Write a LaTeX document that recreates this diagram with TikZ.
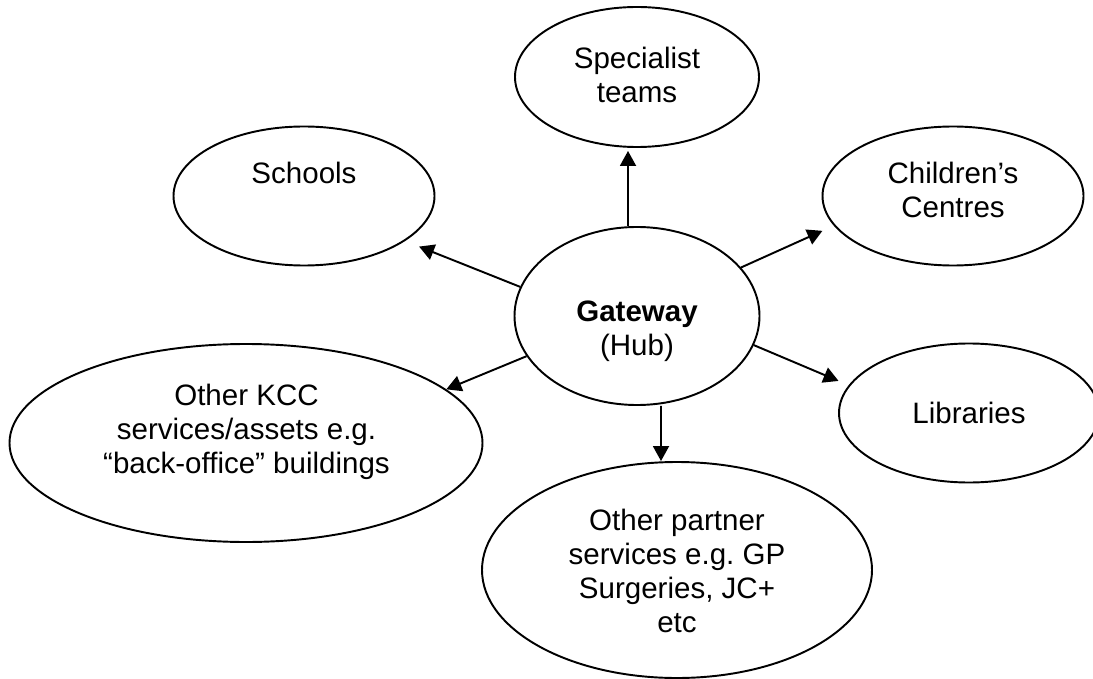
\documentclass[tikz,border=0pt]{standalone}
\usepackage{fontspec}
\setmainfont{Liberation Sans}
\usetikzlibrary{shapes.geometric,arrows.meta}
\begin{document}
\begin{tikzpicture}[
  bubble/.style={ellipse, draw, line width=1.1pt, inner sep=0pt},
  txt/.style={align=center, inner sep=0pt, font=\fontsize{16.8}{19.4}\selectfont},
  arr/.style={line width=1.1pt, -{Triangle[length=3mm,width=3.2mm]}}]
\useasboundingbox (0,0) rectangle (21.86,13.56);
\node[bubble, minimum width=4.88cm, minimum height=2.80cm] (spec) at (12.74,12.02){};
\node[bubble, minimum width=5.22cm, minimum height=2.78cm] (schools) at (6.08,9.64){};
\node[bubble, minimum width=5.22cm, minimum height=2.78cm] (child) at (19.06,9.64){};
\node[bubble, minimum width=4.90cm, minimum height=3.56cm] (gate) at (12.74,7.24){};
\node[bubble, minimum width=5.20cm, minimum height=2.78cm] (libs) at (19.38,5.30){};
\node[bubble, minimum width=9.46cm, minimum height=3.96cm] (kcc) at (4.92,4.70){};
\node[bubble, minimum width=7.80cm, minimum height=4.32cm] (partner) at (13.54,2.16){};
\node[txt] (specT) at (12.74,12.06){Specialist\\teams};
\node[txt] (schoolsT) at (6.08,10.10){Schools};
\node[txt] (childT) at (19.06,9.76){Children’s\\Centres};
\node[txt] (gateT) at (12.74,6.94){\textbf{Gateway}\\(Hub)};
\node[txt] (libsT) at (19.38,5.30){Libraries};
\node[txt] (kccT) at (4.93,4.92){Other KCC\\services/assets e.g.\\“back-office” buildings};
\node[txt] (partnerT) at (13.54,2.14){Other partner\\services e.g.\ GP\\Surgeries, JC+\\etc};
\draw[arr, shorten >=0.06cm] ([xshift=-0.18cm]gate.north) -- ([xshift=-0.18cm]spec.south);
\draw[arr, shorten >=0.3cm] (gate.166) -- (schools.-24);
\draw[arr, shorten >=0.25cm] (gate.25) -- (child.194);
\draw[arr, shorten >=0.22cm] (gate.-14) -- (libs.167);
\draw[arr] (gate.200) -- (kcc.15);
\draw[arr] ([xshift=0.48cm]gate.south) -- ([xshift=-0.32cm]partner.north);
\end{tikzpicture}
\end{document}
